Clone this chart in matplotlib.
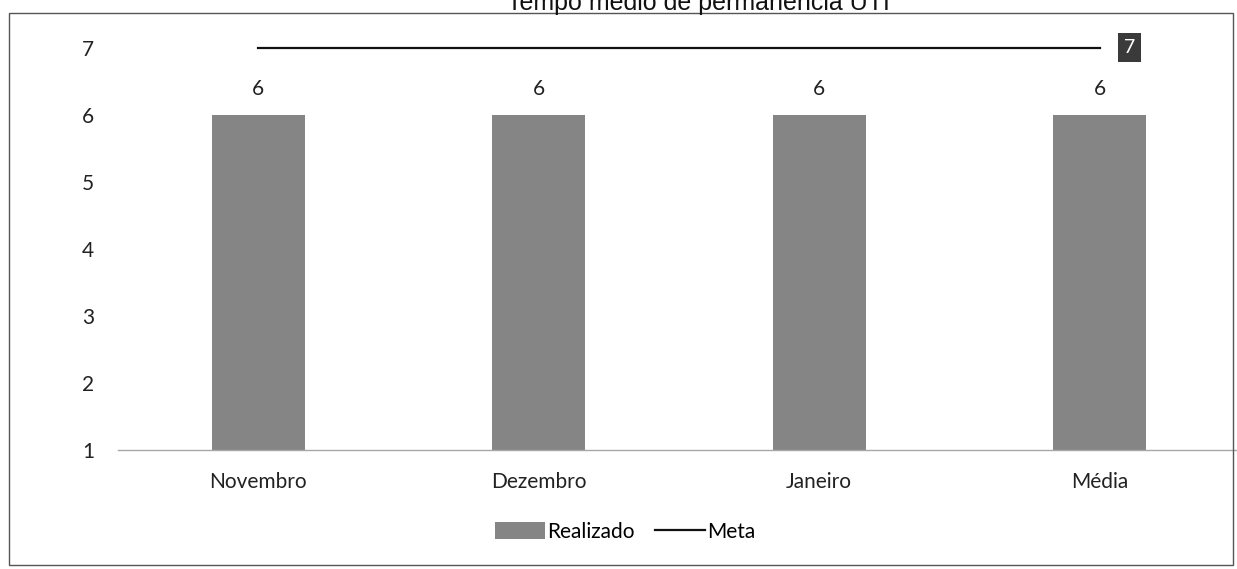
import matplotlib
matplotlib.use("Agg")
import matplotlib.pyplot as plt
from matplotlib.patches import Rectangle

# Data
categories = ["Novembro", "Dezembro", "Janeiro", "Média"]
realizado = [6, 6, 6, 6]
meta = [7, 7, 7, 7]
yticks = [1, 2, 3, 4, 5, 6, 7]

BAR_COLOR = "#858585"
FONT = ["Lato", "DejaVu Sans"]

W, H = 1237, 569
fig = plt.figure(figsize=(W / 100, H / 100), dpi=100)

# axes placed in pixel terms
left, right = 118, 1240
bottom, top = 450, 47.5
ax = fig.add_axes([left / W, (H - bottom) / H, (right - left) / W, (bottom - top) / H])

x = list(range(len(categories)))
bars = ax.bar(x, [v - 1 for v in realizado], bottom=1, width=0.33,
              color=BAR_COLOR, label="Realizado", zorder=2)
line, = ax.plot(x, meta, color="#111111", linewidth=1.6, label="Meta",
                clip_on=False, zorder=3)

for xi, v in zip(x, realizado):
    ax.annotate(f"{v:.0f}", (xi, v), xytext=(0, 16), textcoords="offset pixels",
                ha="center", va="bottom", fontsize=15, family=FONT,
                color="#222222")

# value box at end of Meta line
ax.annotate(f"{meta[-1]:.0f}", (x[-1], meta[-1]), xytext=(30, 0),
            textcoords="offset pixels", ha="center", va="center",
            fontsize=14, family=FONT, color="white",
            bbox=dict(boxstyle="square,pad=0.3", fc="#3a3a3a", ec="none"))

ax.set_xlim(-0.5, 3.5)
ax.set_ylim(1, 7)
ax.set_yticks(yticks)
ax.set_yticklabels([str(t) for t in yticks], family=FONT, fontsize=15,
                   color="#222222")
ax.set_xticks(x)
ax.set_xticklabels(categories, family=FONT, fontsize=15, color="#222222")
ax.tick_params(axis="y", length=0, pad=17)
ax.tick_params(axis="x", length=0, pad=16)

for s in ["top", "right", "left"]:
    ax.spines[s].set_visible(False)
ax.spines["bottom"].set_color("#a8a8a8")
ax.spines["bottom"].set_linewidth(1.0)

leg = fig.legend(handles=[bars, line], labels=["Realizado", "Meta"],
                 loc="center", bbox_to_anchor=(625 / W, 1 - 532 / H),
                 ncol=2, frameon=False, prop={"family": FONT, "size": 15},
                 handlelength=2.4, handleheight=0.85, handletextpad=0.1,
                 columnspacing=1.0)

# outer frame of the chart
fig.patches.append(Rectangle((9 / W, 1 - 565 / H), (1233 - 9) / W, (565 - 13) / H,
                             transform=fig.transFigure, fill=False,
                             edgecolor="#555555", linewidth=1.0))

# title, cut at the top of the scan
fig.text(698 / W, 1 - 10 / H, "Tempo médio de permanência UTI",
         ha="center", va="baseline", fontsize=18, family="Liberation Sans",
         color="#111111")

fig.savefig("out.png", dpi=100)
